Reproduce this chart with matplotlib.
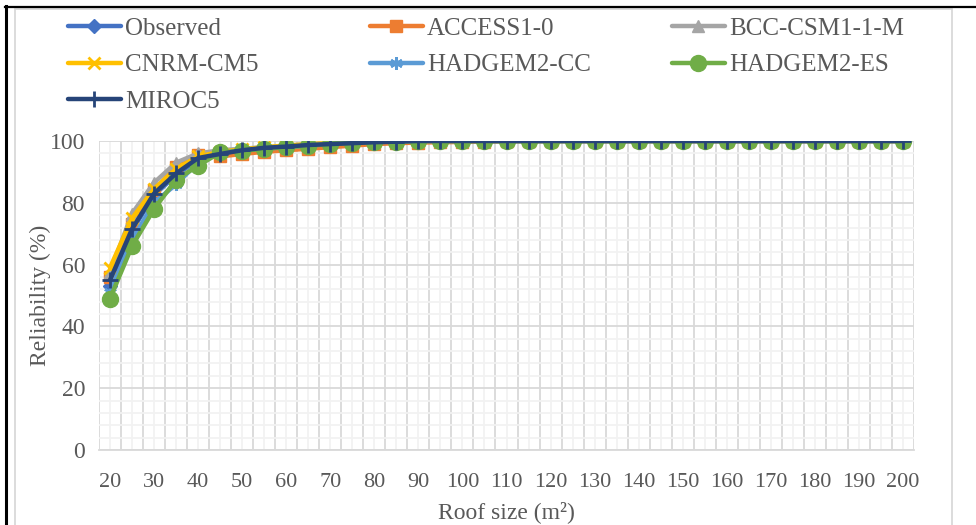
import numpy as np
import matplotlib
matplotlib.use('Agg')
import matplotlib.pyplot as plt
from matplotlib.lines import Line2D
from matplotlib.patches import Rectangle
from matplotlib.ticker import FixedLocator, MultipleLocator

# roof sizes (categories) and reliability (%) per data set
roof_size = [20, 25, 30, 35, 40, 45, 50, 55, 60, 65, 70, 75, 80, 85, 90, 95, 100,
             105, 110, 115, 120, 125, 130, 135, 140, 145, 150, 155, 160, 165, 170,
             175, 180, 185, 190, 195, 200]

observed = [53, 71, 82.5, 89, 94, 96, 97, 97.5, 98, 98.5, 99, 99.3, 99.6, 99.8,
            100, 100, 100, 100, 100, 100, 100, 100, 100, 100, 100, 100, 100, 100,
            100, 100, 100, 100, 100, 100, 100, 100, 100]
access1_0 = [56, 73, 84, 91.5, 95.5, 95, 95.8, 96.5, 97, 97.5, 98, 98.5, 99, 99.3,
             99.5, 99.6, 99.7, 99.8, 100, 100, 100, 100, 100, 100, 100, 100, 100,
             100, 100, 100, 100, 100, 100, 100, 100, 100, 100]
bcc_csm1_1_m = [57.5, 76.5, 86.5, 93, 96, 97, 97.5, 98, 98.5, 99, 99.3, 99.6, 99.8,
                100, 100, 100, 100, 100, 100, 100, 100, 100, 100, 100, 100, 100,
                100, 100, 100, 100, 100, 100, 100, 100, 100, 100, 100]
cnrm_cm5 = [59, 75, 84.5, 91, 95, 96.5, 97.3, 98, 98.5, 99, 99.3, 99.6, 99.8, 100,
            100, 100, 100, 100, 100, 100, 100, 100, 100, 100, 100, 100, 100, 100,
            100, 100, 100, 100, 100, 100, 100, 100, 100]
hadgem2_cc = [51, 68, 80, 86, 93, 96, 97, 97.5, 98, 98.5, 99, 99.3, 99.6, 99.8,
              100, 100, 100, 100, 100, 100, 100, 100, 100, 100, 100, 100, 100, 100,
              100, 100, 100, 100, 100, 100, 100, 100, 100]
hadgem2_es = [49, 66, 78, 87.5, 92, 96.3, 96.8, 97.5, 98, 98.5, 99, 99.4, 99.7,
              99.8, 100, 100, 100, 100, 100, 100, 100, 100, 100, 100, 100, 100, 100,
              100, 100, 100, 100, 100, 100, 100, 100, 100, 100]
miroc5 = [55, 71.5, 83, 89.5, 94.5, 95.8, 97, 97.8, 98.2, 98.7, 99, 99.3, 99.6, 99.8,
          100, 100, 100, 100, 100, 100, 100, 100, 100, 100, 100, 100, 100, 100,
          100, 100, 100, 100, 100, 100, 100, 100, 100]

series = [
    ('Observed', observed, '#4472C4', 'D', 7),
    ('ACCESS1-0', access1_0, '#ED7D31', 's', 9),
    ('BCC-CSM1-1-M', bcc_csm1_1_m, '#A5A5A5', '^', 9),
    ('CNRM-CM5', cnrm_cm5, '#FFC000', 'x', 9),
    ('HADGEM2-CC', hadgem2_cc, '#5B9BD5', (6, 2, 0), 9),
    ('HADGEM2-ES', hadgem2_es, '#70AD47', 'o', 11.5),
    ('MIROC5', miroc5, '#264478', '+', 11),
]

plt.rcParams['font.family'] = ['Liberation Serif', 'DejaVu Serif']
text_col = '#595959'

fig = plt.figure(figsize=(9.76, 5.25), dpi=100)
ax = fig.add_axes([99 / 976, 1 - 450 / 525, 815 / 976, 309 / 525])

x = np.arange(len(roof_size))
handles = {}
for name, vals, col, mk, ms in series:
    ln, = ax.plot(x, vals, color=col, lw=3.2, marker=mk, markersize=ms,
                  markeredgewidth=2 if mk in ('x', '+', (6, 2, 0)) else 1,
                  markerfacecolor=col, markeredgecolor=col, label=name,
                  solid_capstyle='round', zorder=3)
    handles[name] = ln

ax.set_xlim(-0.5, len(roof_size) - 0.5)
ax.set_ylim(0, 100)

# gridlines like the spreadsheet: dark at category edges / every 20, light in between
ax.xaxis.set_major_locator(FixedLocator(np.arange(-0.5, len(roof_size), 1)))
ax.xaxis.set_minor_locator(FixedLocator(x))
ax.yaxis.set_major_locator(MultipleLocator(20))
ax.yaxis.set_minor_locator(MultipleLocator(4))
ax.grid(which='major', color='#D9D9D9', lw=1.3, zorder=0)
ax.grid(which='minor', color='#F2F2F2', lw=1.3, zorder=0)
ax.set_axisbelow(True)
ax.set_xticklabels([])
ax.tick_params(which='both', length=0)
ax.tick_params(axis='y', labelsize=17, labelcolor=text_col, pad=10)

for i, r in enumerate(roof_size):
    if i % 2 == 0:
        ax.text(i, -7.5, str(r), ha='center', va='top', fontsize=16,
                color=text_col, transform=ax.transData)

for s in ['top', 'right', 'left']:
    ax.spines[s].set_visible(False)
ax.spines['bottom'].set_color('#D9D9D9')
ax.spines['bottom'].set_linewidth(1.3)

fig.text(506 / 976, 1 - 512 / 525, 'Roof size (m²)', ha='center', va='center',
         fontsize=17, color=text_col)
fig.text(40 / 976, 1 - 295 / 525, 'Reliability (%)', ha='center', va='center',
         rotation=90, fontsize=17, color=text_col)

# legend: three columns
cols = [(['Observed', 'CNRM-CM5', 'MIROC5'], 55),
        (['ACCESS1-0', 'HADGEM2-CC'], 357),
        (['BCC-CSM1-1-M', 'HADGEM2-ES'], 659)]
for names, xpos in cols:
    leg = fig.legend([handles[n] for n in names], names, loc='upper left',
                     bbox_to_anchor=(xpos / 976, 1 - 5 / 525), frameon=False,
                     fontsize=18, handlelength=2.15, handletextpad=0.15,
                     labelspacing=0.55, borderpad=0.0)
    for t in leg.get_texts():
        t.set_color(text_col)

# chart border and page lines
fig.patches.append(Rectangle((14.5 / 976, -0.01), (952 - 14.5) / 976, 1.01 - 9 / 525,
                             transform=fig.transFigure, fill=False,
                             edgecolor='#D9D9D9', lw=1.3))
fig.lines.append(Line2D([5.5 / 976, 5.5 / 976], [0, 1 - 6 / 525],
                        transform=fig.transFigure, color='black', lw=2.2))
fig.lines.append(Line2D([4.5 / 976, 1], [1 - 7 / 525, 1 - 7 / 525],
                        transform=fig.transFigure, color='black', lw=1.6))

fig.savefig('out.png', dpi=100)
